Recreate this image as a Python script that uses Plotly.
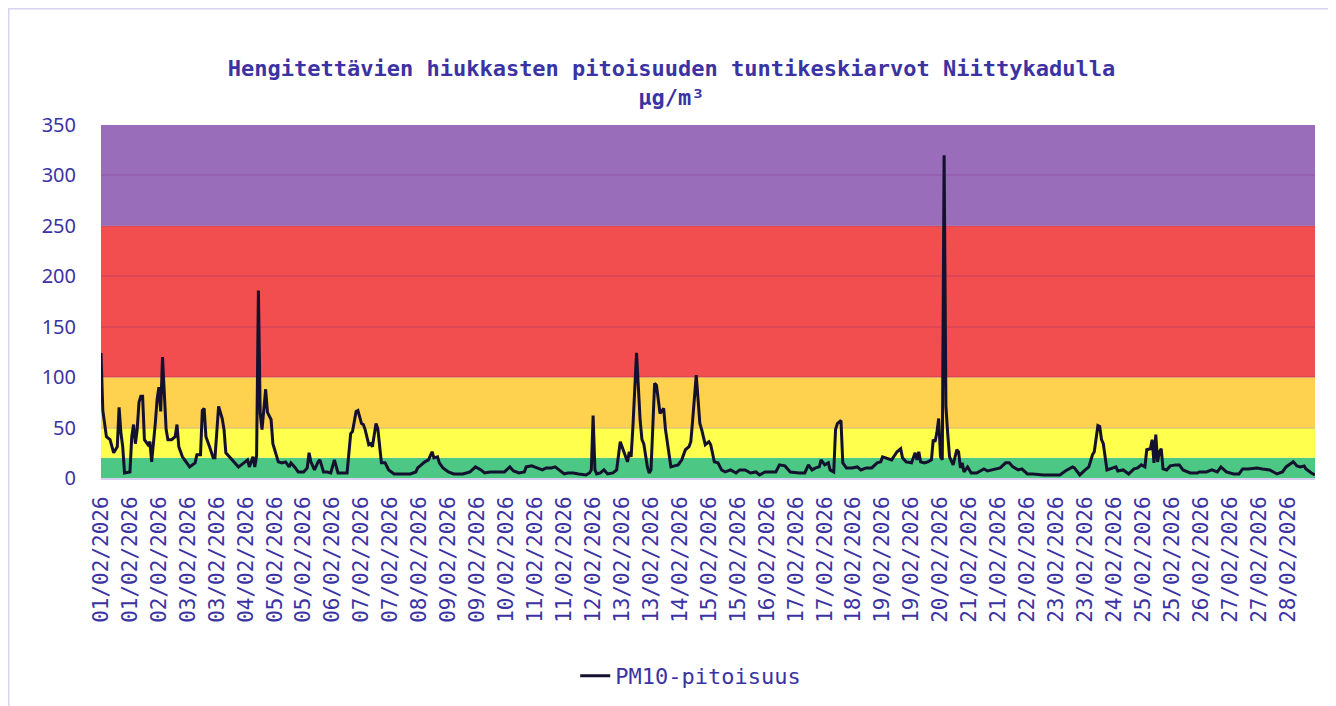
import pandas as pd
import plotly.graph_objects as go

# ---- data (hours since 01/02/2026 00:00, PM10 µg/m³) ----
hours = [0, 1, 3, 5, 7, 9, 10, 11, 12, 13, 16, 17, 18, 19, 20, 21, 22, 23, 24, 26, 27, 28, 30, 31, 32, 33, 34, 35, 36, 37,
         39, 41, 42, 43, 45, 47, 49, 52, 53, 55, 56, 57, 58, 60, 62, 63, 64, 65, 67, 68, 69, 71, 73, 76, 79, 81, 82, 84, 85, 86,
         87, 88, 89, 90, 91, 92, 93, 94, 95, 96, 98, 100, 102, 104, 105, 107, 109, 112, 114, 115, 116, 118, 120, 121, 123, 125, 127, 129, 131, 135,
         136, 138, 139, 141, 142, 144, 145, 146, 148, 149, 150, 152, 153, 155, 157, 159, 162, 165, 171, 174, 175, 177, 179, 181, 183, 184, 186, 187, 189, 192,
         195, 200, 204, 207, 210, 212, 215, 218, 221, 223, 226, 228, 231, 234, 235, 238, 241, 244, 246, 249, 251, 253, 256, 258, 261, 264, 268, 270, 271, 272,
         273, 274, 276, 278, 280, 283, 285, 287, 289, 291, 292, 293, 294, 296, 298, 299, 300, 302, 303, 304, 306, 307, 309, 310, 311, 312, 314, 315, 317, 319,
         321, 323, 325, 326, 327, 329, 331, 332, 334, 336, 337, 338, 339, 341, 343, 345, 348, 351, 353, 356, 359, 362, 364, 367, 370, 373, 375, 378, 381, 384,
         386, 389, 391, 393, 395, 397, 398, 400, 402, 403, 405, 406, 407, 409, 410, 412, 415, 418, 420, 423, 426, 429, 431, 432, 434, 437, 440, 442, 443, 445,
         448, 450, 451, 452, 453, 455, 457, 459, 460, 461, 462, 463, 464, 465, 466, 467, 468, 469, 471, 473, 474, 475, 476, 477, 479, 481, 484, 488, 490, 493,
         497, 500, 502, 504, 507, 509, 512, 515, 521, 526, 530, 533, 537, 538, 541, 544, 546, 548, 549, 551, 552, 553, 554, 556, 558, 561, 562, 565, 568, 571,
         573, 575, 577, 578, 580, 581, 582, 583, 584, 585, 586, 587, 589, 591, 594, 596, 598, 602, 606, 607, 611, 614, 617, 619, 622, 626, 629, 631, 634, 639,
         642, 646, 650, 653, 655, 659, 661, 663, 665, 666, 669, 671]
pm10 = [124, 67, 41, 38, 25, 31, 70, 45, 31, 5, 6, 41, 53, 34, 48, 75, 81, 81, 38, 33, 36, 16, 54, 78, 90, 66, 120, 81, 48, 38,
        38, 41, 53, 31, 21, 16, 11, 15, 23, 23, 67, 69, 41, 31, 20, 20, 48, 71, 59, 48, 25, 21, 16, 11, 15, 18, 11, 21, 11, 22,
        186, 64, 48, 67, 88, 65, 61, 58, 34, 28, 16, 15, 16, 11, 15, 11, 6, 6, 10, 25, 16, 8, 16, 18, 6, 6, 5, 18, 5, 5,
        5, 44, 46, 66, 67, 54, 53, 48, 33, 34, 31, 54, 49, 15, 15, 8, 4, 4, 4, 6, 10, 13, 16, 18, 26, 20, 21, 15, 10, 6,
        4, 4, 6, 11, 8, 5, 6, 6, 6, 6, 11, 7, 5, 6, 11, 12, 10, 8, 10, 10, 11, 8, 4, 5, 5, 4, 3, 5, 8, 62,
        8, 4, 5, 8, 4, 5, 8, 36, 26, 16, 26, 21, 51, 124, 57, 38, 34, 11, 5, 8, 94, 92, 64, 66, 69, 48, 21, 11, 12, 13,
        18, 28, 31, 36, 57, 102, 54, 48, 33, 36, 33, 25, 16, 15, 8, 6, 8, 5, 8, 8, 5, 6, 3, 6, 6, 6, 13, 12, 6, 5,
        5, 5, 13, 8, 10, 11, 18, 13, 15, 8, 6, 48, 54, 57, 15, 10, 10, 11, 8, 10, 10, 15, 16, 21, 20, 18, 26, 29, 20, 16,
        15, 25, 18, 26, 16, 15, 16, 18, 38, 36, 45, 59, 21, 18, 320, 71, 44, 21, 13, 28, 26, 10, 15, 6, 11, 5, 5, 9, 7, 8,
        10, 15, 15, 11, 8, 9, 4, 4, 3, 3, 3, 7, 11, 10, 3, 8, 11, 23, 26, 52, 51, 38, 34, 8, 9, 11, 7, 8, 4, 9,
        10, 13, 11, 28, 29, 38, 15, 43, 16, 26, 29, 9, 8, 12, 13, 13, 8, 5, 5, 6, 6, 8, 6, 11, 6, 4, 4, 9, 9, 10,
        9, 8, 4, 6, 11, 16, 12, 11, 12, 9, 5, 3]

band_edges = [0, 20, 50, 100, 250, 350]
band_colors = ["#4cc784", "#ffff4d", "#fed24f", "#f24e50", "#9a6dbb"]

title_text = "Hengitettävien hiukkasten pitoisuuden tuntikeskiarvot Niittykadulla<br>µg/m³"
series_name = "PM10-pitoisuus"
start = pd.Timestamp("2026-02-01 00:00")
times = [start + pd.Timedelta(hours=h) for h in hours]

TXT = "#3b33a3"
MONO = "DejaVu Sans Mono"

fig = go.Figure()
fig.add_trace(go.Scatter(x=times, y=pm10, mode="lines", name=series_name,
                         line=dict(color="#14112e", width=3)))

# card border (top and left edges)
shapes = [
    dict(type="line", xref="paper", yref="paper", x0=-0.0766, x1=1.03, y0=1.3314, y1=1.3314,
         line=dict(color="#d8d3f0", width=3), layer="below"),
    dict(type="line", xref="paper", yref="paper", x0=-0.0766, x1=-0.0766, y0=-0.7, y1=1.3314,
         line=dict(color="#d8d3f0", width=3), layer="below"),
]
for i, c in enumerate(band_colors):
    shapes.append(dict(type="rect", xref="paper", yref="y", x0=0, x1=1,
                       y0=band_edges[i], y1=band_edges[i + 1], fillcolor=c,
                       line=dict(width=0), layer="below"))

fig.update_layout(
    width=1336, height=706,
    margin=dict(l=93, r=29, t=117, b=236),
    paper_bgcolor="white", plot_bgcolor="rgba(0,0,0,0)",
    shapes=shapes,
    title=dict(text=title_text, x=0.4966, xanchor="center", xref="container",
               y=1 - 68 / 706, yanchor="middle", yref="container",
               font=dict(family=MONO, size=22, color=TXT, weight="bold")),
    showlegend=True,
    legend=dict(orientation="h", x=0.511, xanchor="center", xref="container",
                y=1 - 668 / 706, yanchor="middle", yref="container",
                font=dict(family=MONO, size=22, color=TXT), bgcolor="rgba(0,0,0,0)"),
)
fig.update_xaxes(type="date", range=[start, start + pd.Timedelta(hours=671)],
                 tick0=start, dtick=16 * 3600 * 1000, tickformat="%d/%m/%Y",
                 tickangle=-90, ticks="", ticklabelstandoff=8,
                 tickfont=dict(family=MONO, size=21, color=TXT),
                 showgrid=False, showline=True, linecolor="#d5d0ee", linewidth=2,
                 zeroline=False)
fig.update_yaxes(range=[0, 350], dtick=50, ticks="", ticklabelstandoff=24,
                 tickfont=dict(family="Noto Sans", size=20, color=TXT),
                 showgrid=True, gridcolor="rgba(130,40,110,0.18)", gridwidth=2,
                 zeroline=False)

fig.write_html("out.html")
